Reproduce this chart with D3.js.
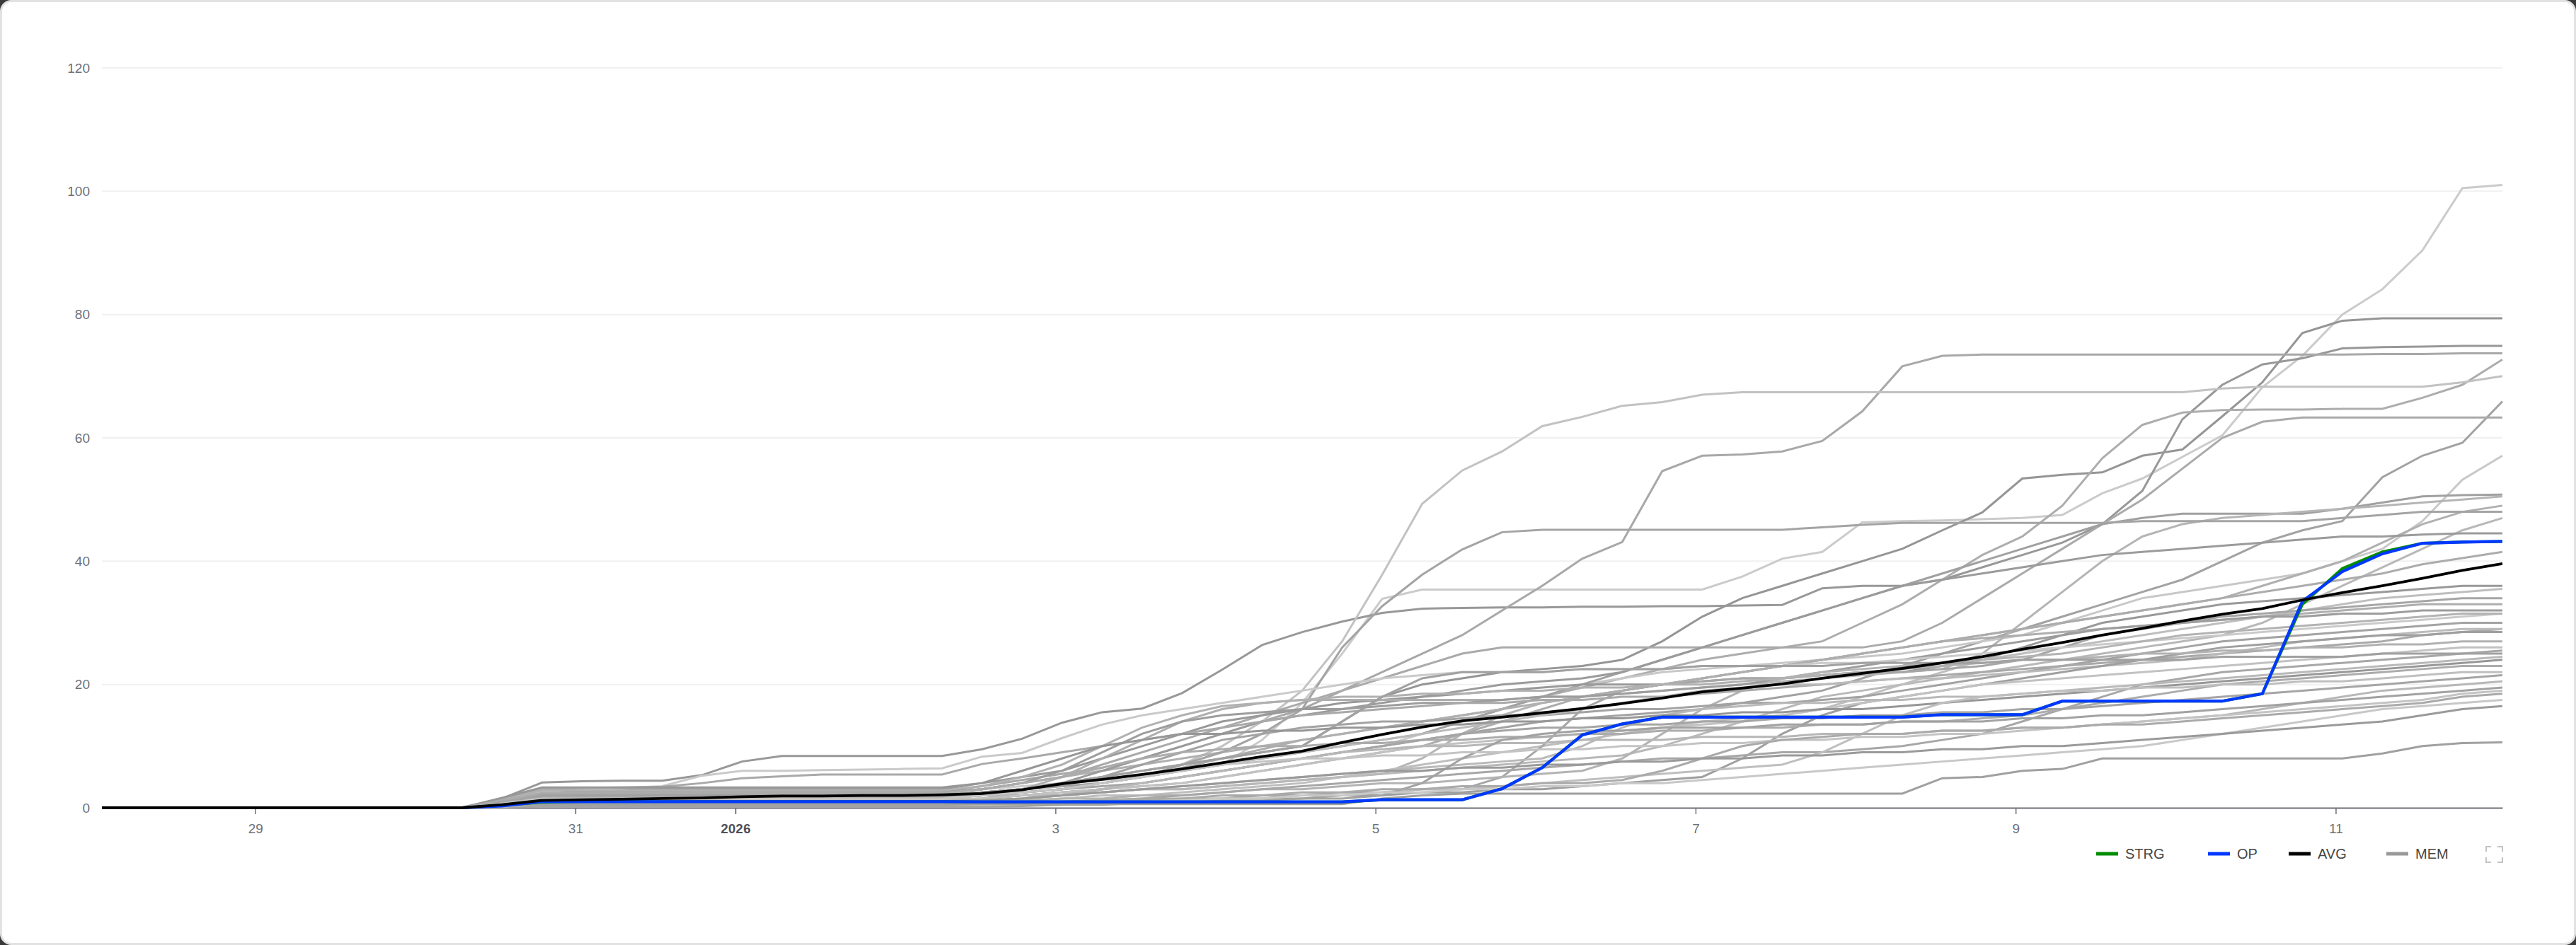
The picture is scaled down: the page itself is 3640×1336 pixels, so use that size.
<!DOCTYPE html>
<html>
<head>
<meta charset="utf-8">
<script src="https://cdn.jsdelivr.net/npm/d3@7"></script>
<style>
  html, body { margin: 0; padding: 0; background: #3a3a3a; }
  #card { position: absolute; left: 0; top: 0; width: 3640px; height: 1336px; box-sizing: border-box;
          border: 3px solid #e2e2e2; border-radius: 16px; background: #fff; }
  #chart { position: absolute; left: 0; top: 0; }
</style>
</head>
<body>
<div id="card"></div>
<div id="chart"></div>
<script>
// Samples every 6 hours, Dec 28 01:00 -> Jan 12 01:00
const startTime = new Date(2025, 11, 28, 1);
const times = d3.range(61).map(i => d3.timeHour.offset(startTime, i * 6));
const yTicks = [0, 20, 40, 60, 80, 100, 120];
const legendLabels = ['STRG', 'OP', 'AVG', 'MEM'];

const strg = [0,0,0,0,0,0,0,0,0, 0,0.4, 0.9,1,1,1,1,1,1,1,1,1,1, 0.95,0.95,0.95,0.95,0.95,0.95,0.95,0.95,0.95,0.95, 1.3,1.3,1.3, 3.1,6.5,11.8,13.6, 14.7,14.7,14.7,14.7,14.7,14.7,14.7, 15.1,15.1,15.1, 17.3,17.3,17.3,17.3,17.3, 18.5,33,38.8,41.5,42.9,43.1,43.2];
const op = [null,0,0,0,0,0,0,0,0, 0,0.3, 1,1,1,1,1,1,1,1,1,1,1, 0.95,0.95,0.95,0.95,0.95,0.95,0.95,0.95,0.95,0.95, 1.3,1.3,1.3, 3.1,6.5,11.8,13.6, 14.7,14.7,14.7,14.7,14.7,14.7,14.7, 15.1,15.1,15.1, 17.3,17.3,17.3,17.3,17.3, 18.5,33.5,38.3,41.2,42.9,43.1,43.2];
const avg = [0,0,0,0,0,0,0,0,0, 0,0.5, 1.2,1.3,1.4,1.5,1.6,1.8,1.9,1.9,2.0,2.0,2.1, 2.3,2.9,3.9,4.6,5.4,6.3, 7.3,8.3,9.2,10.6,11.9,13.1,14.1,14.7,15.4,16.1,16.9,17.8,18.8, 19.4,20.1,21.0,21.8,22.6,23.5,24.5,25.7,26.8,28.0, 29.1,30.3,31.4,32.3,33.7,34.9,36.0,37.2,38.5,39.6];

// Member series (MEM)
const mem01 = [0,0,0,0,0,0,0,0,0, 0,1.2, 2.5,2.5,2.5,2.5,2.5,2.5,2.5,2.5,2.5,2.5,2.5, 3,3.5,4,4.5,5,6, 7,11,17,25,33.9, 35.4,35.4,35.4,35.4,35.4,35.4,35.4,35.4, 37.5,40.4,41.5,46.3,46.5,46.6,46.8,47,47.5,51, 53.4,56.9,60.4,68.2,73.3,80,84.1,90.4,100.5,101];
const mem02 = [0,0,0,0,0,0,0,0,0, 0,1.0, 2,2,2,2,2,2,2,2,2,2,2, 2.5,3,4,5,6,7, 8,9,10,14,18,20,21,22,22.5,23,24,27,31, 34,36,38,40,42,45,47.9,53.4,54,54.4, 57.1,58.1,63.5,69,77,79,79.4,79.4,79.4,79.4];
const mem03 = [0,0,0,0,0,0,0,0,0, 0,1.5, 4.1,4.3,4.4,4.4,5.3,7.5,8.4,8.4,8.4,8.4,8.4, 9.5,11.2,13.8,15.5,16.1,18.6,22.4,26.4,28.5,30.2,31.6,32.3, 32.4,32.5,32.5,32.6,32.6,32.7,32.7,32.8,32.9, 35.6,36,36,37,39,41,43,46,51.4,63,68.6,71.9,72.9,74.5,74.7,74.8,74.9,74.9];
const mem04 = [0,0,0,0,0,0,0,0,0, 0,1.3, 2.7,2.7,2.7,2.7,2.7,2.7,2.7,2.7,2.7,2.7,2.7, 3.5,4.5,5.5,6.5,8,10, 12,14,16,19,22,25,28,32, 36,40.4,43.1,54.6,57.1,57.3,57.8,59.5,64.3,71.6,73.3, 73.5,73.5,73.5,73.5,73.5,73.5,73.5,73.5,73.5,73.5,73.6,73.6,73.7,73.7];
const mem05 = [0,0,0,0,0,0,0,0,0, 0,0.7, 1.5,1.5,1.5,1.5,1.5,1.5,1.5,1.5,1.5,1.5,1.5, 2,2.5,3,4,5,6.5, 8,9.5,11,12,13,14,15,16,18,19.5,21,22.5,24, 25,26,27,30,33,37,41,44,49,56.7, 62.1,64.1,64.5,64.6,64.6,64.7,64.7,66.5,68.6,72.7];
const mem06 = [0,0,0,0,0,0,0,0,0, 0,1.0, 2.2,2.2,2.2,2.2,2.2,2.2,2.2,2.2,2.2,2.2,2.2, 2.5,3,3.5,4,5,7, 10,14,19,27,37.8,49.3,54.7,57.8,61.9,63.4,65.2,65.8,67, 67.4,67.4,67.4,67.4,67.4,67.4,67.4,67.4,67.4,67.4,67.4,67.4, 68,68.3,68.3,68.3,68.3,68.3,69,70];
const mem07 = [0,0,0,0,0,0,0,0,0, 0,0.6, 1.2,1.2,1.2,1.2,1.2,1.2,1.2,1.2,1.2,1.2,1.2, 1.5,2,2.5,3,4,5, 6,7,8,9,10,11,12,13,14,14.5,15,15.5,16, 17,18,19,21,23,25,27,29,31,33, 35,37,40,43,45,46.5,53.6,57.1,59.2,65.9];
const mem08 = [0,0,0,0,0,0,0,0,0, 0,1.2, 2.4,2.4,2.4,2.4,2.4,2.4,2.4,2.4,2.4,2.4,2.4, 3,4,5,7,9,11, 13,15,17,19,21,23,25,26,26,26,26,26,26, 26,26,26,26,27,30,34,38,42,46, 50,55,60,62.6,63.3,63.3,63.3,63.3,63.3,63.3];
const mem09 = [0,0,0,0,0,0,0,0,0, 0,0.5, 1,1,1,1,1,1,1,1,1,1,1, 1.2,1.5,2,3,4,5, 6,7,8,9,10,12,14,16,18,20,21,22,22.5, 23,23.5,24,24.5,25,26,27,28,30,32, 34,35,36,37,38,40,42,46.5,53.2,57.1];
const mem10 = [0,0,0,0,0,0,0,0,0, 0,1.0, 2,2,2,2,2,2,2,2,2,2,2, 2.5,3,3.5,4,5,6, 7,8,9,10,11,12,14,16,18,20,22,24,26, 28,30,32,34,36,38,40,42,44,46,47, 47.7,47.7,47.7,47.7,48.5,49.5,50.5,50.7,50.8];
const mem11 = [0,0,0,0,0,0,0,0,0, 0,0.8, 1.7,1.7,1.7,1.7,1.7,1.7,1.7,1.7,1.7,1.7,1.7, 2,2,2.5,2.5,3,3,3.5,4,4.5,5,5.5, 8,12,15,17, 18,18.5,19,19.5,20,20.5,21,21.5,22,22.5, 25,30,35,40,44,46, 47,47.5,48,48.5,49,49.5,50,50.5];
const mem12 = [0,0,0,0,0,0,0,0,0, 0,1.2, 2.5,2.5,2.5,2.5,2.5,2.5,2.5,2.5,2.5,2.5,2.5, 3,4,5,6,7,8,9,10, 11,12,13,14,15,16,17,18,19,20,21,22,23,24, 25,26,27,28,29,30,31,32,33,34, 36,38,40,43,46,48,49];
const mem13 = [0,0,0,0,0,0,0,0,0, 0,0.9, 1.8,1.8,1.8,1.8,1.8,1.8,1.8,1.8,1.8,1.8,1.8, 2,2.5,3,4,5,7,9,12,16, 26,32.7,37.8,41.9,44.7, 45.1,45.1,45.1,45.1,45.1,45.1,45.1, 45.5,45.9, 46.2,46.2,46.2,46.2,46.2,46.2, 46.5,46.5,46.5,46.5,46.5, 47,47.5,48,48,48];
const mem14 = [0,0,0,0,0,0,0,0,0, 0,0.7, 1.4,1.4,1.4,1.4,1.4,1.4,1.4,1.4,1.4,1.4,1.4, 1.5,2,2,2.5,3,3,3.5,4,4.5,5,5.5,6,6.5,7,7.5,8,8.5, 10,12,14,16,18,19, 20,21,22,23,24,25,26,27,28,30, 33,36,39,42,45,47];
const mem15 = [0,0,0,0,0,0,0,0,0, 0,1.0, 2,2,2,2,2,2,2,2,2,2,2, 2.5,3,4,6,8,10,12, 14,15,16,17,18,19,20,20.5, 21,22,24,26,28,30,32,34, 36,37,38,39,40,41,41.5,42, 42.5,43,43.5,44,44,44.3,44.5,44.5];
const mem16 = [0,0,0,0,0,0,0,0,0, 0,0.6, 1.2,1.2,1.2,1.2,1.2,1.2,1.2,1.2,1.2,1.2,1.2, 1.5,2,2.5,3,3.5,4,5,6,7, 8,9,10,12,14,16,18,19, 20,21,22,23,24,25,26,27, 28,29,30,31,32,33,34,35, 36,37,38,39.5,40.5,41.5];
const mem17 = [0,0,0,0,0,0,0,0,0, 0,1.5, 3,3,3,3,3,3,3,3,3,3,3, 4,5,6,8,10,12,14,15, 16,17,17.5,18,18.5,19,19.5,20, 20,20,20.5,21,21,21.5,22,22, 23,24,26,28,30,31,32,33, 33.5,34,34.5,35,35.5,36,36];
const mem18 = [0,0,0,0,0,0,0,0,0, 0,0.5, 1,1,1,1,1,1,1,1,1,1,1, 1,1,1.5,2,2,2.5,3,3.5,4,5,6,7, 8,9,10,11,12,13,14,14.5, 15,16,18,20,22,24,25,26, 27,28,29,30,31,32,33,34,34.5,35,35.5];
const mem19 = [0,0,0,0,0,0,0,0,0, 0,0.2, 0.5,0.5,0.5,0.5,0.5,0.5,0.5,0.5,0.5,0.5,0.5, 0.5,0.8,1,1,1.2,1.5,1.5,2,2,2.5,2.5,3,3, 5,10,16,19,20, 20.5,21,21,21.5,22,22,22.5,23, 24,26,28,29,30,31,31.5,32, 32.5,33,33.5,34,34];
const mem20 = [0,0,0,0,0,0,0,0,0, 0,0.7, 1.5,1.5,1.5,1.5,1.5,1.5,1.5,1.5,1.5,1.5,1.5, 2,3,5,8,11,14,16,17, 17.5,17.5,17.5,17.5,17.5,17.5, 18,18,19,20,21,22,23,24,25,26, 27,27.5,28,28.5,29,29.5,30,30.5,31,31.5,32,32.5,33,33,33];
const mem21 = [0,0,0,0,0,0,0,0,0, 0,1.3, 2.6,2.6,2.6,2.6,2.6,2.6,2.6,2.6,2.6,2.6,2.6, 3,4,6,9,12,14, 15,15.5,16,16,16.5,17,17,17.5,18,18,18.5,19,19.5, 20,21,22,23,24,25,26,27,28,29, 29.5,30,30.5,31,31,31.5,31.5,32,32,32];
const mem22 = [0,0,0,0,0,0,0,0,0, 0,1.2, 2.5,3,3.2,3.5,5.2,6,6,6.1,6.2,6.3,6.4, 8.3,8.9,11.3,13.5,15,16,17,18,19,20,21, 21.5,22,22,22,22.5,22.5,22.5,23,23,23,23.5,23.5,24, 24.5,25,25.5,26,26.5,27,27.5,28,28.5,29,29.5,30,30.5,31,31.5];
const mem23 = [0,0,0,0,0,0,0,0,0, 0,0.4, 0.8,0.8,0.8,0.8,0.8,0.8,0.8,0.8,0.8,0.8,0.8, 1,1.2,1.5,1.5,2,2,2.5,3,3,3.5,4,4,4.5,5,5.5,6, 8,12,16,19,21, 22,22.5,23,23.5,24,24.5,25,26, 27,28,28.5,29,29.5,30,30.5,31,31.5,31.5];
const mem24 = [0,0,0,0,0,0,0,0,0, 0,1.1, 2.2,2.2,2.2,2.2,2.2,2.2,2.2,2.2,2.2,2.2,2.2, 2.5,3,4,5,7,9,11,12,13, 13.5,14,14,14.5,15,15,15.5,16,16,16.5,17,17,17.5,18, 19,20,21,22,23,24,25,26, 27,27.5,28,28.5,29,29.5,30,30];
const mem25 = [0,0,0,0,0,0,0,0,0, 0,1.5, 3,3.2,3.3,3.4,4,4.8,5.1,5.4,5.4,5.4,5.4, 7.1,8,9, 10,11,12,13,14,15, 15.5,16,16.5,17,17,17.5,17.5,18,18,18.5, 19,19.5,20,20.5,21,21.5,22,22.5,23,23.5, 24,24.5,25,25.5,26,26.5,27,28,28.5,29];
const mem26 = [0,0,0,0,0,0,0,0,0, 0,0.8, 1.6,1.6,1.6,1.6,1.6,1.6,1.6,1.6,1.6,1.6,1.6, 2,2.5,3,4,5,6,7,8,9,10,11, 12,13,14,15,16,17,18,19, 19.5,20,20,20.5,21,21,21.5,22,22.5,23,23.5,24,25,26,27,27.5,28,28.5,29,29];
const mem27 = [0,0,0,0,0,0,0,0,0, 0,0.1, 0.3,0.3,0.3,0.3,0.3,0.3,0.3,0.3,0.3,0.3,0.3, 0.3,0.5,0.5,0.8,1,1,1.2,1.5,1.5,2,2,2.5,2.5,3,3,3.5,4,4.5,5, 8,12,15,17, 18,19,20,21,22,23,24,25, 26,26.5,27,27.5,28,28,28.5,28.5];
const mem28 = [0,0,0,0,0,0,0,0,0, 0,1.4, 2.8,2.8,2.8,2.8,2.8,2.8,2.8,2.8,2.8,2.8,2.8, 3.5,5,7,10,13,15,16.5, 17,17.5,18,18,18.5,18.5,19,19,19.5,19.5,20,20,20.5,21,21.5,22,22.5, 23,23.5,24,24,24.5,25,25,25.5,25.5,26,26,26.5,26.5,27,27];
const mem29 = [0,0,0,0,0,0,0,0,0, 0,0.6, 1.3,1.3,1.3,1.3,1.3,1.3,1.3,1.3,1.3,1.3,1.3, 1.5,2,2.5,3,3.5,4,5,6,7,8,9,10,10.5,11, 11.5,12,12.5,13,13.5,14,15,16,17,18,19,20, 20.5,21,21.5,22,22.5,23,23.5,24,24.5,25,25.5,26,26];
const mem30 = [0,0,0,0,0,0,0,0,0, 0,0.3, 0.6,0.6,0.6,0.6,0.6,0.6,0.6,0.6,0.6,0.6,0.6, 0.8,1,1,1.2,1.5,2,2.5,3,3.5,4,4.5,5,5.5,6,6.5,7,7.5,8,8,8.5,9,9,9.5,10, 11,12,14,16,18,20,21,22,22.5,23,23.5,24,24.5,25,25.5];
const mem31 = [0,0,0,0,0,0,0,0,0, 0,1.0, 2,2,2,2,2,2,2,2,2,2,2, 2.5,3,4,5,6,7,8,9,10, 14,18,21,22, 22,22,22.5,22.5,22.5,23,23,23,23,23.5,23.5,23.5,23.5,24,24,24,24,24,24.5,24.5,24.5,24.5,25,25,25,25];
const mem32 = [0,0,0,0,0,0,0,0,0, 0,0.5, 1,1,1,1,1,1,1,1,1,1,1, 1.2,1.5,2,2.5,3,3.5,4,4.5,5,5.5,6,6.5,7,7.5,8, 10,13,15,16,16.5, 17,17,17.5,17.5,18,18,18.5,19,19.5,20,20.5,21,21.5,22,22.5,23,23.5,24,24.5];
const mem33 = [0,0,0,0,0,0,0,0,0, 0,1.6, 3.3,3.3,3.3,3.3,3.3,3.3,3.3,3.3,3.3,3.3,3.3, 4,6,8,10,11,12, 12,12.5,12.5,13,13,13.5,13.5,14,14,14.5,14.5,15,15,15.5,15.5,16,16,16.5, 17,17.5,18,18.5,19,19.5,20,20.5,21,21.5,22,22.5,23,23.5,24];
const mem34 = [0,0,0,0,0,0,0,0,0, 0,1.2, 2.4,2.4,2.4,2.4,2.4,2.4,2.4,2.4,2.4,2.4,2.4, 3,4,5,6.5,8,9, 9.5,10,10,10.5,10.5,11,11,11.5,11.5,12,12,12.5,12.5,13,13,13.5,13.5,14,14,14.5,15, 16,17,18,19,20,20.5,21,21.5,22,22.5,23,23];
const mem35 = [0,0,0,0,0,0,0,0,0, 0,0.2, 0.4,0.4,0.4,0.4,0.4,0.4,0.4,0.4,0.4,0.4,0.4, 0.5,0.5,0.8,1,1,1.2,1.5,1.5,2,2,2.5,3,3,3.5,4,4.5,5,5.5,6,6.5,7, 9,12,15,17,18, 18.5,19,19,19.5,19.5,20,20,20.5,20.5,21,21.5,22,22];
const mem36 = [0,0,0,0,0,0,0,0,0, 0,0.9, 1.8,1.8,1.8,1.8,1.8,1.8,1.8,1.8,1.8,1.8,1.8, 2,2.5,3,3.5,4,5,6,7,8,9,10,11,12, 12.5,13,13,13.5,13.5,14,14,14.5,14.5,15,15,15.5,15.5,16,16,16.5,17,17.5,18,18.5,19,19.5,20,20.5,21,21.5];
const mem37 = [0,0,0,0,0,0,0,0,0, 0,0.4, 0.9,0.9,0.9,0.9,0.9,0.9,0.9,0.9,0.9,0.9,0.9, 1,1.5,2,3,4,5,6,7,8,9, 9.5,10,10,10.5,10.5,11,11,11,11.5,11.5,11.5,12,12,12,12.5,12.5,13,13,13.5,14,14.5,15,16,17,18,19,19.5,20,20.5];
const mem38 = [0,0,0,0,0,0,0,0,0, 0,0.1, 0.2,0.2,0.2,0.2,0.2,0.2,0.2,0.2,0.2,0.2,0.2, 0.2,0.3,0.5,0.5,0.8,1,1,1.2,1.5,1.5,2, 4,8,11,12,12.5, 12.5,13,13,13,13.5,13.5,13.5,14,14,14,14.5,14.5,15,15,15.5,16,16.5,17,17.5,18,18.5,19,19.5];
const mem39 = [0,0,0,0,0,0,0,0,0, 0,0.7, 1.5,1.5,1.5,1.5,1.5,1.5,1.5,1.5,1.5,1.5,1.5, 2,2.5,3,4,5,6,7,7.5, 8,8,8.5,8.5,9,9,9.5,9.5,10,10,10.5,10.5,11,11,11.5,11.5,12,12,12.5,13,13.5,14,14.5,15,15.5,16,16.5,17,17.5,18.5,19];
const mem40 = [0,0,0,0,0,0,0,0,0, 0,0.3, 0.7,0.7,0.7,0.7,0.7,0.7,0.7,0.7,0.7,0.7,0.7, 0.8,1,1,1.2,1.5,1.5,2,2,2.5,2.5,3,3,3.5,3.5,4,4,4.5, 6,8,10,11,11.5,12, 12,12.5,12.5,13,13,13.5,13.5,14,14.5,15,15.5,16,16.5,17,18,18.5];
const mem41 = [0,0,0,0,0,0,0,0,0, 0,0.2, 0.5,0.5,0.5,0.5,0.5,0.5,0.5,0.5,0.5,0.5,0.5, 0.5,0.6,0.8,1,1,1.2,1.5,1.5,2,2,2.5,2.5,3,3,3.5,3.5,4,4,4.5, 5,5.5,6,6.5,7,7.5,8,8.5,9,9.5,10,11,12,13,14,15,16,16.5,17,17.5];
const mem42 = [0,0,0,0,0,0,0,0,0, 0,0.5, 1.1,1.1,1.1,1.1,1.1,1.1,1.1,1.1,1.1,1.1,1.1, 1.2,1.5,2,2.5,3,3.5,4,4.5,5, 5.5,6,6,6.5,6.5,7,7,7.5,7.5,8,8,8.5,8.5,9,9,9.5,9.5,10,10,10.5,11,11.5,12,12.5,13,13.5,14,15,16,16.5];
const mem43 = [0,0,0,0,0,0,0,0,0, 0,0.3, 0.5,0.5,0.5,0.5,0.5,0.5,0.5,0.5,0.5,0.5,0.5, 0.6,0.6,0.6,0.6,0.6,0.6,0.6,0.6,0.6,0.6, 1.5,2, 2.3,2.3,2.3,2.3,2.3,2.3,2.3,2.3,2.3,2.3,2.3,2.3, 4.8,5,6,6.3, 8,8,8,8,8,8,8, 8.8,10,10.5,10.6];

const memSeries = [mem01, mem02, mem03, mem04, mem05, mem06, mem07, mem08, mem09, mem10,
  mem11, mem12, mem13, mem14, mem15, mem16, mem17, mem18, mem19, mem20,
  mem21, mem22, mem23, mem24, mem25, mem26, mem27, mem28, mem29, mem30,
  mem31, mem32, mem33, mem34, mem35, mem36, mem37, mem38, mem39, mem40,
  mem41, mem42, mem43];

// grey shade per member line (styling only)
const memShades = ['#cbcbcb','#959595','#989898','#a8a8a8','#adadad','#c2c2c2','#a2a2a2','#aaaaaa','#c8c8c8','#a0a0a0',
  '#b5b5b5','#b0b0b0','#a4a4a4','#b8b8b8','#9b9b9b','#acacac','#999999','#bebebe','#a6a6a6','#aeaeae',
  '#9d9d9d','#cacaca','#b3b3b3','#a3a3a3','#a9a9a9','#bbbbbb','#9f9f9f','#b1b1b1','#c2c2c2','#a7a7a7',
  '#a1a1a1','#b9b9b9','#979797','#acacac','#bfbfbf','#a5a5a5','#b7b7b7','#a2a2a2','#c4c4c4','#aaaaaa',
  '#c8c8c8','#9a9a9a','#a0a0a0'];

const width = 3640;
const height = 1336;
const plot = { left: 144, right: 3536, top: 96, bottom: 1142 };
const colors = { STRG: '#008c00', OP: '#0038ff', AVG: '#000000', MEM: '#999999' };
const axisColor = '#6e7079';
const font = '"Liberation Sans", Arial, sans-serif';

const svg = d3.select('#chart')
  .append('svg')
  .attr('width', width)
  .attr('height', height);

const x = d3.scaleTime()
  .domain([times[0], times[times.length - 1]])
  .range([plot.left, plot.right]);
const y = d3.scaleLinear()
  .domain([0, 120])
  .range([plot.bottom, plot.top]);

// grid lines
svg.append('g')
  .selectAll('line')
  .data(yTicks.filter(d => d > 0))
  .enter()
  .append('line')
  .attr('x1', plot.left)
  .attr('x2', plot.right)
  .attr('y1', d => y(d))
  .attr('y2', d => y(d))
  .attr('stroke', '#f0f0f0')
  .attr('stroke-width', 2);

// y labels
svg.append('g')
  .selectAll('text')
  .data(yTicks)
  .enter()
  .append('text')
  .attr('x', 127)
  .attr('y', d => y(d))
  .attr('dy', '0.35em')
  .attr('text-anchor', 'end')
  .attr('font-family', font)
  .attr('font-size', 19)
  .attr('fill', axisColor)
  .text(d => d);

// x axis
const xTicks = d3.timeDay.every(2).range(times[0], times[times.length - 1]);
const isYear = d => d.getMonth() === 0 && d.getDate() === 1;
const xAxis = d3.axisBottom(x)
  .tickValues(xTicks)
  .tickSize(9)
  .tickSizeOuter(0)
  .tickPadding(14)
  .tickFormat(d => isYear(d) ? d3.timeFormat('%Y')(d) : d.getDate());

const gx = svg.append('g')
  .attr('transform', `translate(0,${plot.bottom})`)
  .call(xAxis);
gx.select('.domain').attr('stroke', axisColor).attr('stroke-width', 2);
gx.selectAll('.tick line').attr('stroke', axisColor).attr('stroke-width', 1.5);
gx.selectAll('.tick text')
  .attr('font-family', font)
  .attr('font-size', 19)
  .attr('font-weight', d => isYear(d) ? 'bold' : 'normal')
  .attr('fill', d => isYear(d) ? '#4f5159' : axisColor);

// lines
const lineValue = d3.line()
  .defined(d => d != null)
  .x((d, i) => x(times[i]))
  .y(d => y(d));

svg.append('g')
  .selectAll('path')
  .data(memSeries)
  .enter()
  .append('path')
  .attr('d', d => lineValue(d))
  .attr('fill', 'none')
  .attr('stroke', (d, i) => memShades[i])
  .attr('stroke-width', 3);

const mainSeries = [
  { name: 'STRG', values: strg, w: 4 },
  { name: 'OP', values: op, w: 4.2 },
  { name: 'AVG', values: avg, w: 3.8 }
];
svg.append('g')
  .selectAll('path')
  .data(mainSeries)
  .enter()
  .append('path')
  .attr('d', d => lineValue(d.values))
  .attr('fill', 'none')
  .attr('stroke', d => colors[d.name])
  .attr('stroke-width', d => d.w);

// legend
const legendX = [2962, 3120, 3234, 3372];
const legendY = 1207;
const legend = svg.append('g')
  .selectAll('g')
  .data(legendLabels)
  .enter()
  .append('g')
  .attr('transform', (d, i) => `translate(${legendX[i]},${legendY})`);
legend.append('line')
  .attr('x1', 0)
  .attr('x2', 31)
  .attr('stroke', d => colors[d])
  .attr('stroke-width', 5);
legend.append('text')
  .attr('x', 41)
  .attr('dy', '0.36em')
  .attr('font-family', font)
  .attr('font-size', 20)
  .attr('fill', '#464646')
  .text(d => d);

// full screen icon
const fs = svg.append('g')
  .attr('transform', 'translate(3513,1197)')
  .attr('fill', 'none')
  .attr('stroke', '#c4c4c4')
  .attr('stroke-width', 2);
fs.append('path').attr('d', 'M0,7V0H7 M16,0H23V7 M23,15V22H16 M7,22H0V15');
</script>
</body>
</html>
